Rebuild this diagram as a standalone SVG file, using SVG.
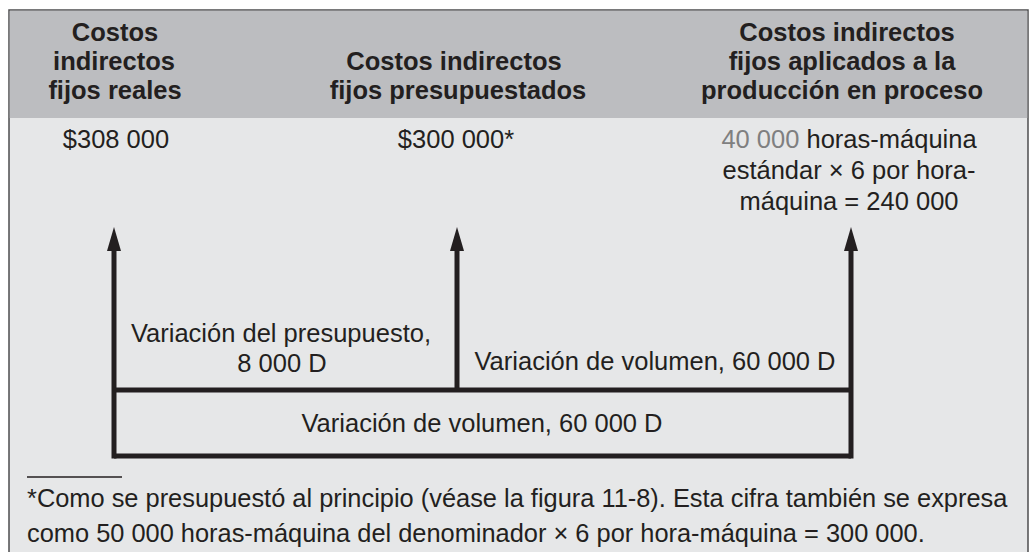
<svg xmlns="http://www.w3.org/2000/svg" width="1031" height="552" viewBox="0 0 1031 552">
  <defs>
    <marker id="ah" markerUnits="userSpaceOnUse" viewBox="0 0 24 14" markerWidth="24" markerHeight="14" refX="6" refY="7" orient="auto">
      <path d="M0,0 L24,7 L0,14 Z" fill="#231f20"/>
    </marker>
    <style>
      .hd { font-family: "Liberation Sans", Arial, sans-serif; font-weight: bold; font-size: 25.5px; fill: #231f20; text-anchor: middle; }
      .tx { font-family: "Liberation Sans", Arial, sans-serif; font-size: 25.5px; fill: #231f20; text-anchor: middle; }
      .fn { font-family: "Liberation Sans", Arial, sans-serif; font-size: 25.4px; fill: #231f20; }
      .ln { stroke: #231f20; stroke-width: 5; fill: none; }
      .gr { fill: #7f7f80; }
    </style>
  </defs>
  <rect x="0" y="0" width="1031" height="552" fill="#ffffff"/>
  <rect id="panel" x="9" y="10" width="1019" height="560" fill="#e6e7e8" stroke="#4d4d4f" stroke-width="1.5"/>
  <rect id="header" x="9.75" y="10.75" width="1017.5" height="107.25" fill="#bcbdc0"/>

  <g id="col-reales">
    <text class="hd" x="115" y="41">Costos</text>
    <text class="hd" x="114" y="70">indirectos</text>
    <text class="hd" x="115" y="99">fijos reales</text>
    <text class="tx" x="116" y="148">$308 000</text>
  </g>
  <g id="col-presupuestados">
    <text class="hd" x="454" y="70">Costos indirectos</text>
    <text class="hd" x="458" y="99">fijos presupuestados</text>
    <text class="tx" x="456" y="148">$300 000*</text>
  </g>
  <g id="col-aplicados">
    <text class="hd" x="847" y="41">Costos indirectos</text>
    <text class="hd" x="842" y="70">fijos aplicados a la</text>
    <text class="hd" x="842" y="99">producción en proceso</text>
    <text class="tx" x="849" y="148"><tspan class="gr">40 000</tspan> horas-máquina</text>
    <text class="tx" x="849" y="179">estándar × 6 por hora-</text>
    <text class="tx" x="849" y="210">máquina = 240 000</text>
  </g>

  <g id="connectors">
    <path class="ln" d="M114,458.5 V245" marker-end="url(#ah)"/>
    <path class="ln" d="M457,390 V245" marker-end="url(#ah)"/>
    <path class="ln" d="M851,458.5 V245" marker-end="url(#ah)"/>
    <path class="ln" d="M114,390 H851"/>
    <path class="ln" d="M114,456 H851"/>
  </g>

  <g id="var-presupuesto">
    <text class="tx" x="281" y="342">Variación del presupuesto,</text>
    <text class="tx" x="282" y="372">8 000 D</text>
  </g>
  <g id="var-volumen-upper">
    <text class="tx" x="655" y="370">Variación de volumen, 60 000 D</text>
  </g>
  <g id="var-volumen-lower">
    <text class="tx" x="482" y="432">Variación de volumen, 60 000 D</text>
  </g>

  <g id="footnote">
    <line x1="27" y1="477" x2="122" y2="477" stroke="#231f20" stroke-width="1.3"/>
    <text class="fn" x="27" y="507">*Como se presupuestó al principio (véase la figura 11-8). Esta cifra también se expresa</text>
    <text class="fn" x="27" y="542">como 50 000 horas-máquina del denominador × 6 por hora-máquina = 300 000.</text>
  </g>
</svg>
